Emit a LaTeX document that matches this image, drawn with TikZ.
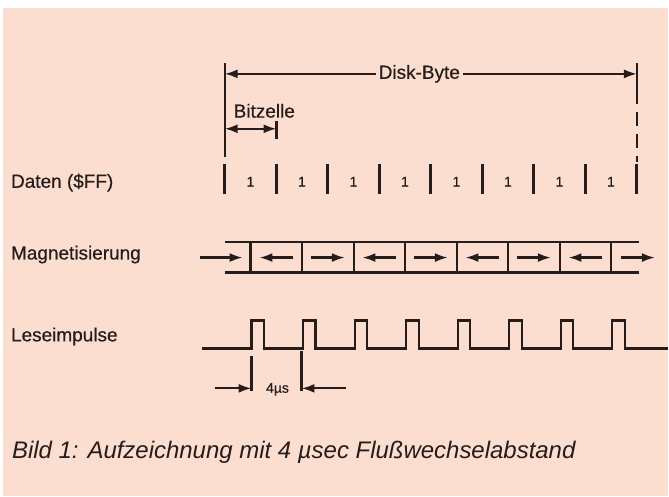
\documentclass[tikz,border=0pt]{standalone}
\usepackage{fontspec}
\setmainfont{Liberation Sans}
\newfontfamily\labelfont{Liberation Sans}[FakeBold=0.5]
\usetikzlibrary{arrows.meta}

\definecolor{paper}{RGB}{252,222,208}
\definecolor{ink}{RGB}{38,28,26}

\begin{document}
\begin{tikzpicture}[x=0.5pt,y=-0.5pt,line width=1.1pt,draw=ink,
    every node/.style={text=ink,inner sep=1pt,font=\labelfont\fontsize{9.5}{11}\selectfont},
    tip/.style={-{Latex[length=6.5pt,width=4.5pt]}},
    tips/.style={{Latex[length=6.5pt,width=4.5pt]}-{Latex[length=6.5pt,width=4.5pt]}},
    small/.style={font=\labelfont\fontsize{7}{8}\selectfont}]

  \fill[white] (0,0) rectangle (669,497);
  \fill[paper] (3,8) rectangle (669,497);

  % row labels
  \begin{scope}[every node/.append style={anchor=west}]
    \node (daten) at (8,183) {Daten (\$FF)};
    \node (magn)  at (8,255) {Magnetisierung};
    \node (lese)  at (8,337) {Leseimpulse};
  \end{scope}

  % disk byte and bit cell
  \coordinate (b0) at (225,63);  \coordinate (b1) at (225,157);
  \coordinate (e0) at (638,63);  \coordinate (e1) at (638,90);
  \coordinate (e2) at (638,162);
  \coordinate (bl) at (225,74);  \coordinate (br) at (638,74);
  \draw (b0) -- (b1);
  \draw (e0) -- (e1);
  \draw[dashed,dash pattern=on 7pt off 4pt] (e1) -- (e2);
  \node (byte) at (420,74) {Disk-Byte};
  \path[tip] (byte) edge (bl) (byte) edge (br);

  \node[anchor=west] (zelle) at (231,111) {Bitzelle};
  \coordinate (z0) at (225,129); \coordinate (z1) at (277,129);
  \coordinate (t0) at (277,121); \coordinate (t1) at (277,139);
  \draw[tips] (z0) -- (z1);
  \draw (t0) -- (t1);

  % data bits
  \foreach \i in {0,...,8}
    \draw[line width=1.5pt] ({225+51.6*\i},164) -- ++(0,30);
  \foreach \i in {0,...,7}
    \node[small] (bit\i) at ({250.8+51.6*\i},182) {1};

  % magnetisation strip
  \coordinate (s0) at (225,242); \coordinate (s1) at (640,242);
  \coordinate (s2) at (225,273); \coordinate (s3) at (640,273);
  \draw (s0) -- (s1) (s2) -- (s3);
  \foreach \i in {0,...,7}
    \draw ({251+51.6*\i},242) -- ++(0,31);
  \foreach \i/\d in {0/-1,1/1,2/-1,3/1,4/-1,5/1,6/-1}
    \draw[tip] ({276.8+51.6*\i-17*\d},258) -- ({276.8+51.6*\i+17*\d},258);
  \coordinate (in0) at (200,258);  \coordinate (in1) at (243,258);
  \coordinate (out0) at (622,258); \coordinate (out1) at (656,258);
  \draw[tip] (in0) -- (in1);
  \draw[tip] (out0) -- (out1);

  % read pulses
  \draw (202,349)
    \foreach \i in {0,...,7} { -- ({252+51.6*\i},349) -- ++(0,-28) -- ++(12.5,0) -- ++(0,28) }
    -- (669,349);

  % pulse spacing
  \coordinate (p0) at (252,357); \coordinate (p1) at (252,392);
  \coordinate (q0) at (302,352); \coordinate (q1) at (302,392);
  \draw (p0) -- (p1) (q0) -- (q1);
  \coordinate (pl) at (215,389); \coordinate (pa) at (252,389);
  \coordinate (qr) at (347,389); \coordinate (qa) at (302,389);
  \draw[tip] (pl) -- (pa);
  \draw[tip] (qr) -- (qa);
  \node[small] (takt) at (278,390) {4µs};

  % caption
  \node[anchor=base west,font=\fontsize{12}{14}\selectfont\itshape] (bild) at (9,459)
    {Bild 1: Aufzeichnung mit 4 µsec Flußwechselabstand};

\end{tikzpicture}
\end{document}
